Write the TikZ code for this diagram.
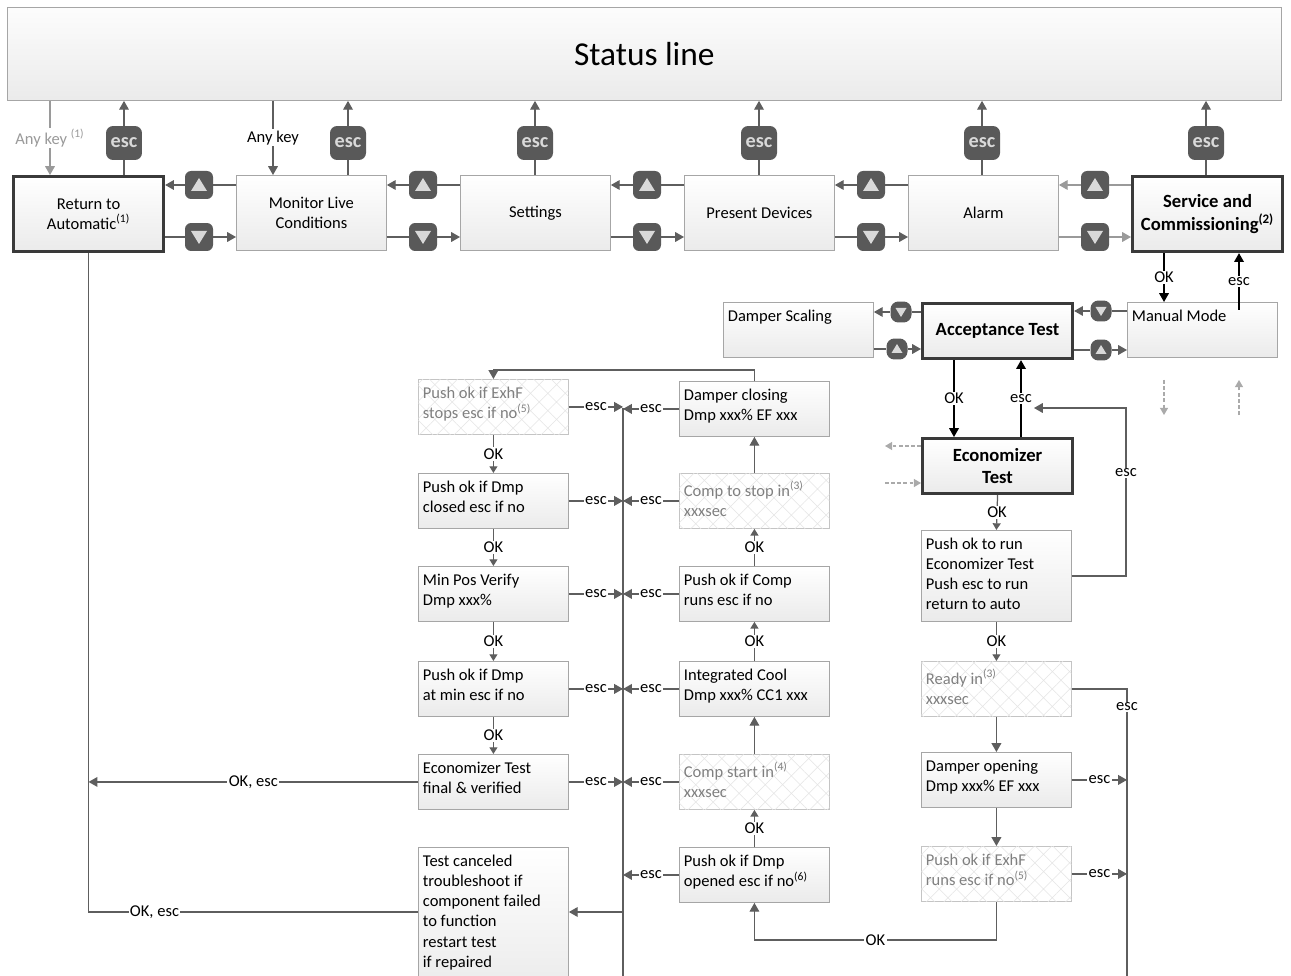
\documentclass[tikz,border=0pt]{standalone}
\usepackage{fontspec}
\setmainfont{Carlito}
\usetikzlibrary{arrows.meta,patterns.meta,calc}
\definecolor{lineC}{HTML}{5E5E5E}
\definecolor{boxB}{HTML}{A6A6A6}
\definecolor{btn}{HTML}{595959}
\definecolor{btnT}{HTML}{D9D9D9}
\definecolor{thickB}{HTML}{3A3A3A}
\definecolor{hatchT}{HTML}{808080}
\definecolor{hatchB}{HTML}{C4C4C4}
\definecolor{grayA}{HTML}{9A9A9A}
\definecolor{dashC}{HTML}{AAAAAA}
\newcommand\UpB[3]{\node[btnsq] (#1) at (#2,#3) {}; \fill[btnT] (#1) ++(0,-7) -- ++(-8,13) -- ++(16,0) -- cycle;}
\newcommand\DnB[3]{\node[btnsq] (#1) at (#2,#3) {}; \fill[btnT] (#1) ++(0,7) -- ++(-8,-13) -- ++(16,0) -- cycle;}
\newcommand\SUpB[3]{\node[sbtn] (#1) at (#2,#3) {}; \fill[btnT] (#1) ++(0,-5) -- ++(-5.5,9) -- ++(11,0) -- cycle;}
\newcommand\SDnB[3]{\node[sbtn] (#1) at (#2,#3) {}; \fill[btnT] (#1) ++(0,5) -- ++(-5.5,-9) -- ++(11,0) -- cycle;}
\newcommand\LBox[4]{\node[box,label={[txt]north west:{#4}}] (#1) at (#2,#3) {};}
\newcommand\HBox[4]{\node[hbox,label={[txt,text=hatchT]north west:{#4}}] (#1) at (#2,#3) {};}
\newcommand\Pair[5]{%
  \UpB{#4}{#3}{185}\DnB{#5}{#3}{237}
  \draw[conn] (#2.west |- #4) -- (#4.east); \draw[conn,arr] (#4.west) -- (#1.east |- #4);
  \draw[conn] (#1.east |- #5) -- (#5.west); \draw[conn,arr] (#5.east) -- (#2.west |- #5);}
\begin{document}
\begin{tikzpicture}[x=0.02cm,y=-0.02cm,
  font=\fontsize{9.4}{11.4}\selectfont,
  boxbase/.style={anchor=north west, inner sep=0pt, minimum width=3cm, minimum height=1.1cm, line width=0.5pt},
  box/.style={boxbase, draw=boxB, top color=white, bottom color=black!8},
  hbox/.style={boxbase, draw=hatchB, fill=white, postaction={pattern={Hatch[angle=45,distance=7pt,line width=0.3pt]}, pattern color=black!10}},
  topbox/.style={box, minimum height=1.5cm, align=center},
  thickbox/.style={draw=thickB, line width=1.8pt},
  txt/.style={anchor=north west, align=left, inner xsep=2.6pt, inner ysep=4.6pt, label distance=0pt},
  conn/.style={draw=lineC, line width=0.7pt},
  arr/.style={-{Triangle[length=5pt,width=5.5pt]}},
  sarr/.style={-{Triangle[length=3.8pt,width=4.5pt]}},
  lbl/.style={fill=white, inner sep=0.8pt},
  escbtn/.style={fill=btn, rounded corners=4pt, minimum width=0.72cm, minimum height=0.68cm, text=btnT, font=\bfseries\fontsize{11.5}{12}\selectfont, inner sep=0pt},
  btnsq/.style={fill=btn, rounded corners=3.5pt, minimum size=0.56cm, inner sep=0pt},
  sbtn/.style={fill=btn, rounded corners=4.5pt, minimum size=0.42cm, inner sep=0pt},
  boldt/.style={font=\bfseries\fontsize{10.6}{12.6}\selectfont},
  dsh/.style={draw=dashC, line width=0.6pt, dash pattern=on 2pt off 1.5pt, -{Triangle[length=4pt,width=4.5pt]}}
]
\clip (0,0) rectangle (1291,976);
\fill[white] (0,0) rectangle (1291,976);
% status line
\node[boxbase, draw=boxB, top color=black!1, bottom color=black!8, minimum width=25.48cm, minimum height=1.86cm, font=\fontsize{19}{22}\selectfont] (status) at (7,7) {Status line};
% top row
\node[topbox,thickbox] (ret) at (12,175) {Return to\\Automatic\textsuperscript{(1)}};
\node[topbox] (mon) at (236,175) {Monitor Live\\Conditions};
\node[topbox] (set) at (460,175) {Settings};
\node[topbox] (pre) at (684,175) {Present Devices};
\node[topbox] (alm) at (908,175) {Alarm};
\node[topbox,thickbox,boldt] (svc) at (1131,175) {Service and\\Commissioning\textsuperscript{(2)}};
% esc buttons
\foreach \n/\x/\b in {e1/124/ret,e2/348/mon,e3/535/set,e4/759/pre,e5/982/alm,e6/1206/svc}{
  \node[escbtn] (\n) at (\x,143) {esc};
  \draw[conn] (\b.north -| \n) -- (\n.south);
  \draw[conn,arr] (\n.north) -- (status.south -| \n);
}
% any key
\coordinate (ak1) at (50,139);
\coordinate (ak2) at (273,139);
\draw[draw=grayA,line width=0.7pt,arr] (status.south -| ak1) -- node[lbl,text=grayA]{Any key \textsuperscript{(1)}} (ret.north -| ak1);
\draw[conn,arr] (status.south -| ak2) -- node[lbl]{Any key} (mon.north -| ak2);
% up/down pairs
\Pair{ret}{mon}{199}{u1}{d1}
\Pair{mon}{set}{423}{u2}{d2}
\Pair{set}{pre}{647}{u3}{d3}
\Pair{pre}{alm}{871}{u4}{d4}
\UpB{u5}{1095}{185}\DnB{d5}{1095}{237}
\draw[draw=grayA,line width=0.7pt] (svc.west |- u5) -- (u5.east); \draw[draw=grayA,line width=0.7pt,arr] (u5.west) -- (alm.east |- u5);
\draw[draw=grayA,line width=0.7pt] (alm.east |- d5) -- (d5.west); \draw[draw=grayA,line width=0.7pt,arr] (d5.east) -- (svc.west |- d5);
% service sub-menu
\LBox{man}{1127}{302}{Manual Mode}
\node[box,thickbox,boldt] (acc) at (921,302) {Acceptance Test};
\LBox{dsc}{723}{302}{Damper Scaling}
\coordinate (okx) at (1164,0);
\coordinate (escx) at (1239,0);
\draw[conn,draw=black,arr] (svc.south -| okx) -- node[lbl]{OK} (man.north -| okx);
\draw[conn,draw=black,arr] ($(man.north -| escx)+(0,8)$) -- node[lbl]{esc} (svc.south -| escx);
\SDnB{sd1}{1101}{311}\SUpB{su1}{1101}{350}
\draw[conn] (man.west |- sd1) -- (sd1.east); \draw[conn,arr] (sd1.west) -- (acc.east |- sd1);
\draw[conn] (acc.east |- su1) -- (su1.west); \draw[conn,arr] (su1.east) -- (man.west |- su1);
\SDnB{sd2}{901}{312}\SUpB{su2}{897}{349}
\draw[conn] (acc.west |- sd2) -- (sd2.east); \draw[conn,arr] (sd2.west) -- (dsc.east |- sd2);
\draw[conn] (dsc.east |- su2) -- (su2.west); \draw[conn,arr] (su2.east) -- (acc.west |- su2);
% economizer test
\node[box,thickbox,align=center,boldt] (eco) at (921,437) {Economizer\\Test};
\coordinate (aokx) at (954,0);
\coordinate (aescx) at (1021,0);
\draw[conn,draw=black,arr] (acc.south -| aokx) -- node[lbl]{OK} (eco.north -| aokx);
\draw[conn,draw=black,arr] (eco.north -| aescx) -- node[lbl]{esc} (acc.south -| aescx);
% dashed stubs
\coordinate (ds1) at (1164,380); \coordinate (ds2) at (1164,415);
\coordinate (ds3) at (1239,415); \coordinate (ds4) at (1239,380);
\coordinate (ds5) at (885,446); \coordinate (ds6) at (885,483);
\draw[dsh] (ds1) -- (ds2);
\draw[dsh] (ds3) -- (ds4);
\draw[dsh] (eco.west |- ds5) -- (ds5);
\draw[dsh] (ds6) -- (eco.west |- ds6);
% right column
\node[box,minimum height=1.82cm,label={[txt]north west:{Push ok to run\\Economizer Test\\Push esc to run\\return to auto}}] (run) at (921,530) {};
\HBox{rdy}{921}{661}{Ready in\textsuperscript{(3)}\\xxxsec}
\LBox{dop}{921}{752}{Damper opening\\Dmp xxx\% EF xxx}
\HBox{xfr}{921}{846}{Push ok if ExhF\\runs esc if no\textsuperscript{(5)}}
\draw[conn,sarr] (eco.south) -- node[lbl]{OK} (run.north);
\draw[conn,sarr] (run.south) -- node[lbl]{OK} (rdy.north);
\draw[conn,arr] (rdy.south) -- (dop.north);
\draw[conn,arr] (dop.south) -- (xfr.north);
\coordinate (rl) at (1126,408);
\coordinate (rt) at (1034,408);
\draw[conn,arr] (run.east) -| (rl) -- (rt);
\node[lbl] at (1126,473) {esc};
\coordinate (rbus) at (1127,990);
\draw[conn] (rdy.east) -| (rbus);
\node[lbl] at (1127,707) {esc};
\draw[conn,arr] (dop.east) -- node[lbl]{esc} (dop.east -| rbus);
\draw[conn,arr] (xfr.east) -- node[lbl]{esc} (xfr.east -| rbus);
% middle right column
\LBox{dcl}{679}{381}{Damper closing\\Dmp xxx\% EF xxx}
\HBox{cts}{679}{473}{Comp to stop in\textsuperscript{(3)}\\xxxsec}
\LBox{pcr}{679}{566}{Push ok if Comp\\runs esc if no}
\LBox{ic}{679}{661}{Integrated Cool\\Dmp xxx\% CC1 xxx}
\HBox{cst}{679}{754}{Comp start in\textsuperscript{(4)}\\xxxsec}
\LBox{pdo}{679}{847}{Push ok if Dmp\\opened esc if no\textsuperscript{(6)}}
\coordinate (okb) at (0,940);
\draw[conn,arr] (xfr.south) -- (xfr.south |- okb) -- node[lbl]{OK} (pdo.south |- okb) -- (pdo.south);
\draw[conn,sarr] (pdo.north) -- node[lbl]{OK} (cst.south);
\draw[conn,arr] (cst.north) -- (ic.south);
\draw[conn,sarr] (ic.north) -- node[lbl]{OK} (pcr.south);
\draw[conn,sarr] (pcr.north) -- node[lbl]{OK} (cts.south);
\draw[conn,arr] (cts.north) -- (dcl.south);
% left middle column
\HBox{xfs}{418}{379}{Push ok if ExhF\\stops esc if no\textsuperscript{(5)}}
\LBox{dmc}{418}{473}{Push ok if Dmp\\closed esc if no}
\LBox{mpv}{418}{566}{Min Pos Verify\\Dmp xxx\%}
\LBox{dam}{418}{661}{Push ok if Dmp\\at min esc if no}
\LBox{efv}{418}{754}{Economizer Test\\final \& verified}
\node[box,minimum height=2.9cm,label={[txt]north west:{Test canceled\\troubleshoot if\\component failed\\to function\\restart test\\if repaired}}] (tc) at (418,847) {};
\coordinate (topb) at (0,370);
\draw[conn,arr] (dcl.north) -- (dcl.north |- topb) -| (xfs.north);
\draw[conn,sarr] (xfs.south) -- node[lbl]{OK} (dmc.north);
\draw[conn,sarr] (dmc.south) -- node[lbl]{OK} (mpv.north);
\draw[conn,sarr] (mpv.south) -- node[lbl]{OK} (dam.north);
\draw[conn,sarr] (dam.south) -- node[lbl]{OK} (efv.north);
% central bus
\coordinate (bus) at (623,408);
\coordinate (busb) at (623,990);
\draw[conn] (bus) -- (busb);
\foreach \l in {xfs,dmc,mpv,dam,efv}{
  \draw[conn,arr] (\l.east) -- node[lbl]{esc} (\l.east -| bus);
}
\foreach \r in {dcl,cts,pcr,ic,cst,pdo}{
  \draw[conn,arr] (\r.west) -- node[lbl]{esc} (\r.west -| bus);
}
\coordinate (tcy) at (0,912);
\draw[conn,arr] (bus |- tcy) -- (tc.east |- tcy);
% left return lines
\draw[conn] (ret.south) -- (ret.south |- tcy) -- node[lbl,pos=0.2]{OK, esc} (tc.west |- tcy);
\draw[conn,arr] (efv.west) -- node[lbl]{OK, esc} (efv.west -| ret.south);
\end{tikzpicture}
\end{document}
